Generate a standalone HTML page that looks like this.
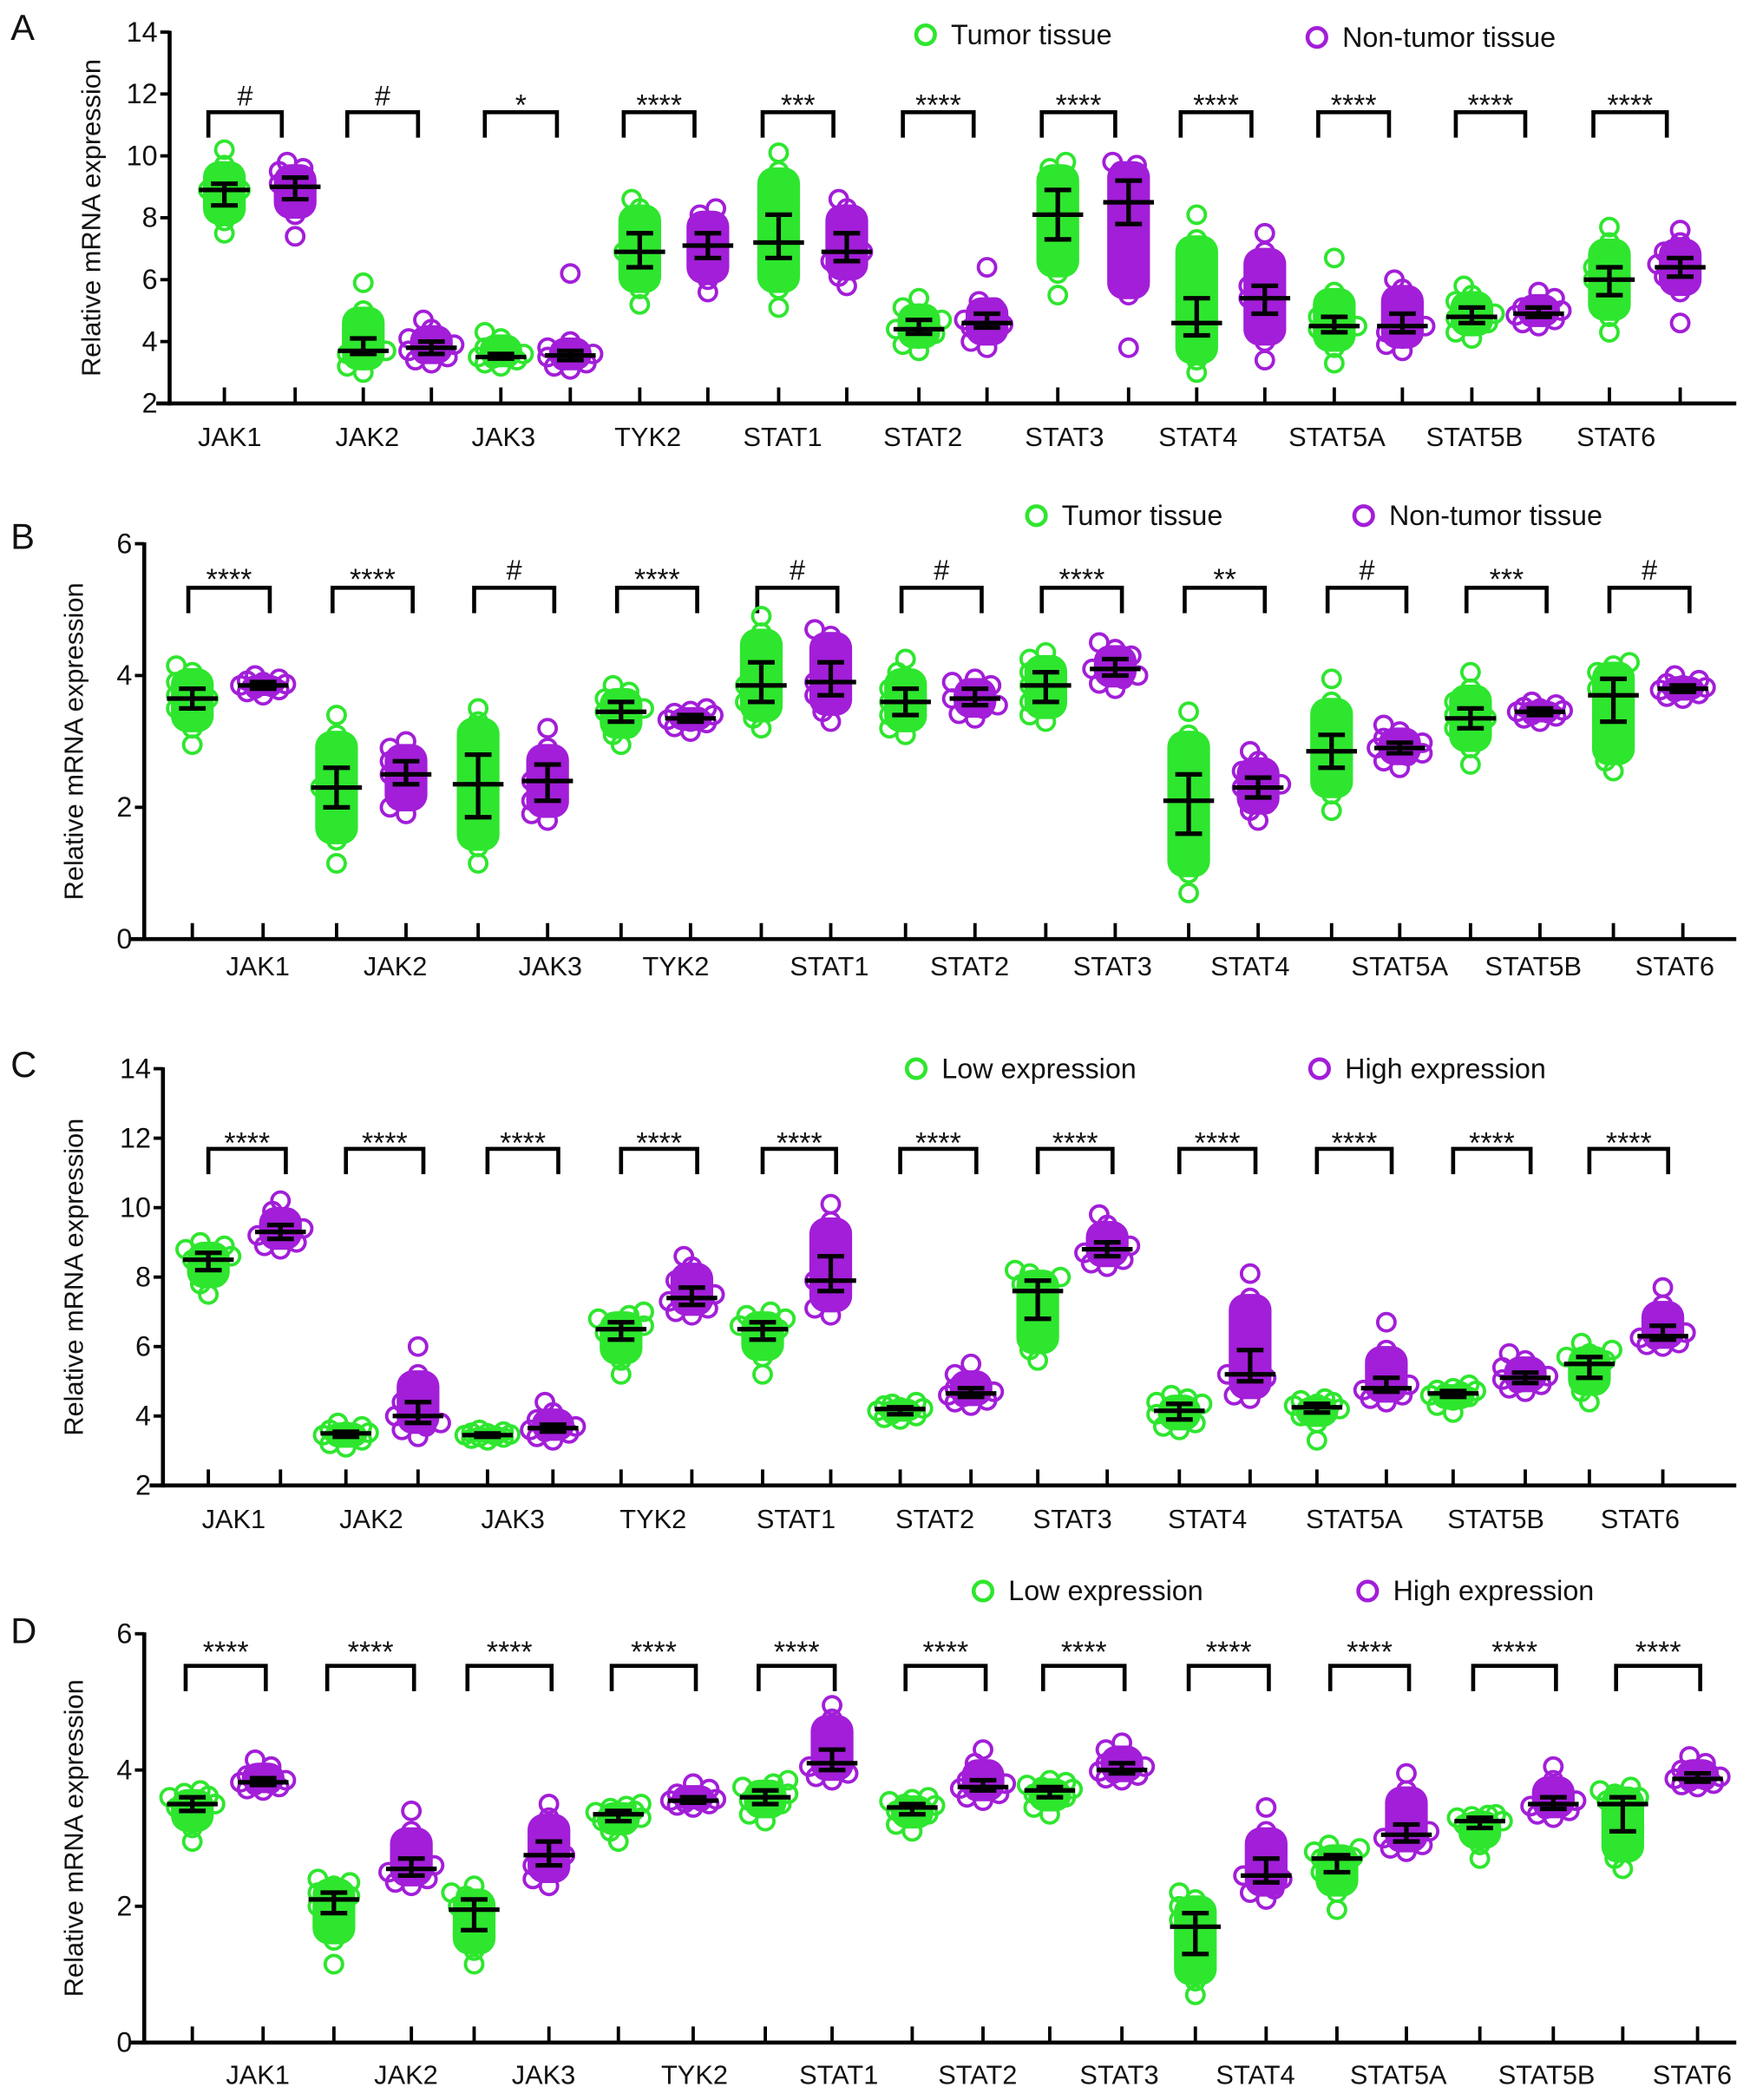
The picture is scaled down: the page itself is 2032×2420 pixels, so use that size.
<!DOCTYPE html>
<html><head><meta charset="utf-8">
<style>
html,body{margin:0;padding:0;background:#fff;}
svg{display:block;}
text{font-family:"Liberation Sans",Arial,sans-serif;fill:#111;}
</style></head>
<body>
<svg id="fig" width="2032" height="2420" viewBox="0 0 1320 1572" xmlns="http://www.w3.org/2000/svg"></svg>
<script>
const categories = ["JAK1","JAK2","JAK3","TYK2","STAT1","STAT2","STAT3","STAT4","STAT5A","STAT5B","STAT6"];

const ptsA_g = [[7.5,7.9,8.2,8.4,8.7,8.9,8.9,9.1,9.4,9.7,10.2],[3.0,3.2,3.4,3.6,3.7,3.7,3.9,4.1,4.5,5.0,5.9],[3.2,3.3,3.4,3.45,3.5,3.5,3.55,3.6,3.8,4.1,4.3],[5.2,5.7,6.1,6.4,6.7,6.9,7.1,7.5,7.9,8.3,8.6],[5.1,5.7,6.3,6.7,7.0,7.2,7.5,8.1,8.8,9.5,10.1],[3.7,3.9,4.1,4.25,4.4,4.4,4.55,4.7,4.9,5.1,5.4],[5.5,6.2,6.8,7.3,7.8,8.1,8.4,8.9,9.3,9.6,9.8],[3.0,3.4,3.8,4.2,4.5,4.6,4.9,5.4,6.3,7.3,8.1],[3.3,3.8,4.1,4.3,4.4,4.5,4.6,4.8,5.1,5.6,6.7],[4.1,4.3,4.5,4.6,4.75,4.8,4.9,5.1,5.3,5.5,5.8],[4.3,4.8,5.2,5.5,5.8,6.0,6.2,6.4,6.8,7.2,7.7]];
const ptsA_p = [[7.4,8.1,8.4,8.6,8.8,9.0,9.1,9.3,9.5,9.6,9.8],[3.3,3.4,3.5,3.6,3.7,3.8,3.9,4.0,4.1,4.4,4.7],[3.1,3.2,3.3,3.4,3.5,3.55,3.6,3.7,3.8,4.0,6.2],[5.6,6.0,6.4,6.7,6.9,7.1,7.3,7.5,7.8,8.1,8.3],[5.8,6.1,6.4,6.6,6.8,6.9,7.1,7.5,7.9,8.3,8.6],[3.8,4.0,4.3,4.45,4.55,4.6,4.7,4.9,5.1,5.3,6.4],[3.8,5.5,7.2,7.8,8.2,8.5,8.8,9.2,9.5,9.7,9.8],[3.4,4.0,4.6,4.9,5.2,5.4,5.6,5.8,6.3,6.9,7.5],[3.7,3.9,4.1,4.3,4.4,4.5,4.6,4.9,5.3,5.7,6.0],[4.5,4.6,4.7,4.8,4.85,4.9,5.0,5.1,5.2,5.4,5.6],[4.6,5.6,6.0,6.1,6.3,6.4,6.5,6.7,6.9,7.2,7.6]];
const sigA = ["#","#","*","****","***","****","****","****","****","****","****"];

const ptsB_g = [[2.95,3.2,3.4,3.5,3.6,3.65,3.7,3.8,3.9,4.05,4.15],[1.15,1.5,1.8,2.0,2.2,2.3,2.4,2.6,2.8,3.1,3.4],[1.15,1.4,1.6,1.85,2.1,2.35,2.5,2.8,3.0,3.3,3.5],[2.95,3.1,3.2,3.3,3.4,3.45,3.5,3.6,3.65,3.75,3.85],[3.2,3.35,3.5,3.6,3.75,3.85,4.0,4.2,4.4,4.65,4.9],[3.1,3.2,3.3,3.4,3.5,3.6,3.7,3.8,3.9,4.05,4.25],[3.3,3.4,3.5,3.6,3.75,3.85,3.95,4.05,4.15,4.25,4.35],[0.7,1.0,1.3,1.6,1.9,2.1,2.3,2.5,2.8,3.1,3.45],[1.95,2.2,2.4,2.6,2.75,2.85,2.95,3.1,3.3,3.6,3.95],[2.65,2.9,3.1,3.2,3.3,3.35,3.4,3.5,3.6,3.8,4.05],[2.55,2.7,3.0,3.3,3.5,3.7,3.8,3.95,4.05,4.15,4.2]];
const ptsB_p = [[3.7,3.75,3.78,3.8,3.83,3.85,3.87,3.9,3.92,3.95,4.0],[1.9,2.0,2.2,2.35,2.45,2.5,2.6,2.7,2.8,2.9,3.0],[1.8,1.9,2.0,2.1,2.3,2.4,2.5,2.65,2.75,2.9,3.2],[3.15,3.22,3.28,3.3,3.33,3.35,3.37,3.4,3.43,3.46,3.5],[3.3,3.45,3.6,3.7,3.8,3.9,4.0,4.2,4.4,4.6,4.7],[3.35,3.42,3.5,3.55,3.6,3.65,3.7,3.8,3.85,3.9,3.95],[3.8,3.88,3.95,4.0,4.05,4.1,4.15,4.25,4.3,4.4,4.5],[1.8,1.95,2.05,2.15,2.25,2.3,2.35,2.45,2.55,2.7,2.85],[2.6,2.7,2.78,2.82,2.87,2.9,2.93,2.98,3.05,3.15,3.25],[3.3,3.35,3.38,3.4,3.43,3.45,3.47,3.5,3.52,3.56,3.6],[3.65,3.68,3.72,3.75,3.78,3.8,3.82,3.85,3.88,3.93,4.0]];
const sigB = ["****","****","#","****","#","#","****","**","#","***","#"];

const ptsC_g = [[7.5,7.8,8.0,8.2,8.4,8.5,8.6,8.7,8.8,8.9,9.0],[3.1,3.2,3.3,3.4,3.45,3.5,3.52,3.55,3.6,3.7,3.8],[3.3,3.35,3.38,3.4,3.43,3.45,3.47,3.5,3.52,3.55,3.6],[5.2,5.6,5.9,6.2,6.4,6.5,6.6,6.7,6.8,6.9,7.0],[5.2,5.7,6.0,6.2,6.4,6.5,6.6,6.7,6.8,6.9,7.0],[3.9,3.95,4.0,4.05,4.15,4.2,4.22,4.25,4.3,4.35,4.4],[5.6,5.9,6.3,6.8,7.2,7.6,7.8,7.9,8.0,8.1,8.2],[3.6,3.7,3.8,3.9,4.05,4.15,4.25,4.35,4.4,4.5,4.6],[3.3,3.8,4.0,4.1,4.2,4.25,4.3,4.35,4.4,4.45,4.5],[4.1,4.3,4.45,4.55,4.6,4.65,4.7,4.72,4.75,4.8,4.9],[4.4,4.7,4.9,5.1,5.3,5.5,5.6,5.7,5.8,5.9,6.1]];
const ptsC_p = [[8.8,8.9,9.0,9.1,9.2,9.3,9.4,9.5,9.7,9.9,10.2],[3.4,3.6,3.7,3.8,3.9,4.0,4.2,4.4,4.8,5.2,6.0],[3.3,3.4,3.5,3.55,3.6,3.65,3.7,3.75,3.9,4.1,4.4],[6.9,7.0,7.1,7.2,7.3,7.4,7.5,7.7,7.9,8.3,8.6],[6.9,7.1,7.3,7.6,7.8,7.9,8.2,8.6,9.0,9.6,10.1],[4.3,4.4,4.45,4.55,4.6,4.65,4.7,4.8,4.95,5.2,5.5],[8.3,8.4,8.5,8.6,8.7,8.8,8.9,9.0,9.2,9.5,9.8],[4.5,4.6,4.8,5.0,5.1,5.2,5.5,5.9,6.6,7.4,8.1],[4.4,4.5,4.6,4.7,4.75,4.8,4.9,5.1,5.4,5.9,6.7],[4.7,4.8,4.9,4.95,5.05,5.1,5.15,5.25,5.4,5.6,5.8],[6.0,6.05,6.1,6.2,6.25,6.3,6.4,6.6,6.9,7.2,7.7]];
const sigC = ["****","****","****","****","****","****","****","****","****","****","****"];

const ptsD_g = [[2.95,3.15,3.3,3.4,3.45,3.5,3.55,3.6,3.62,3.66,3.7],[1.15,1.5,1.7,1.9,2.0,2.1,2.15,2.2,2.3,2.35,2.4],[1.15,1.35,1.5,1.65,1.8,1.95,2.0,2.1,2.15,2.2,2.3],[2.95,3.1,3.2,3.25,3.3,3.35,3.38,3.4,3.44,3.47,3.5],[3.25,3.35,3.45,3.5,3.55,3.6,3.65,3.7,3.75,3.8,3.85],[3.1,3.2,3.3,3.35,3.4,3.45,3.48,3.5,3.54,3.57,3.6],[3.35,3.45,3.55,3.6,3.65,3.7,3.72,3.75,3.78,3.82,3.85],[0.7,0.9,1.1,1.3,1.5,1.7,1.8,1.9,2.0,2.1,2.2],[1.95,2.2,2.4,2.5,2.6,2.7,2.72,2.75,2.8,2.85,2.9],[2.7,2.9,3.05,3.15,3.2,3.25,3.27,3.3,3.32,3.34,3.35],[2.55,2.7,2.9,3.1,3.3,3.5,3.55,3.6,3.65,3.7,3.75]];
const ptsD_p = [[3.7,3.72,3.75,3.78,3.8,3.82,3.85,3.88,3.92,4.05,4.15],[2.3,2.35,2.4,2.45,2.5,2.55,2.6,2.7,2.85,3.1,3.4],[2.3,2.4,2.5,2.6,2.7,2.75,2.85,2.95,3.1,3.3,3.5],[3.45,3.48,3.5,3.52,3.54,3.55,3.57,3.6,3.65,3.72,3.8],[3.85,3.9,3.95,4.0,4.05,4.1,4.2,4.3,4.5,4.75,4.95],[3.55,3.6,3.65,3.7,3.73,3.75,3.8,3.85,3.95,4.1,4.3],[3.85,3.88,3.92,3.95,3.98,4.0,4.05,4.1,4.2,4.3,4.4],[2.1,2.2,2.25,2.35,2.4,2.45,2.55,2.7,2.85,3.1,3.45],[2.8,2.85,2.9,2.95,3.0,3.05,3.1,3.2,3.4,3.7,3.95],[3.3,3.35,3.4,3.43,3.47,3.5,3.55,3.6,3.7,3.85,4.05],[3.75,3.78,3.8,3.83,3.85,3.87,3.9,3.95,4.0,4.1,4.2]];
const sigD = ["****","****","****","****","****","****","****","****","****","****","****"];

const ticksA = [2,4,6,8,10,12,14];
const ticksB = [0,2,4,6];

const GREEN = "#2ee62e", PURPLE = "#a21ed8";
const NS = "http://www.w3.org/2000/svg";
const svg = document.getElementById("fig");

function mk(tag, attrs, parent) {
  const e = document.createElementNS(NS, tag);
  for (const k in attrs) e.setAttribute(k, attrs[k]);
  (parent || svg).appendChild(e);
  return e;
}

const panels = [
  {id:"a", letter:"A", ly:30, ax:127, y0:302, y1:24, vmin:2, vmax:14, ticks:ticksA, g:ptsA_g, p:ptsA_p, sig:sigA,
   gx:[168,272,375,479,583,688,792,896,999,1102,1205], px:[221,323,427,530,634,739,845,947,1050,1152,1258],
   lx:[172,275,377,485,586,691,797,897,1001,1104,1210], labY:334, titleX:75, brY:84, bl:-12, br:-10, starY:79,
   leg:[[693,29,"Tumor tissue"],[986,31,"Non-tumor tissue"]]},
  {id:"b", letter:"B", ly:411, ax:108, y0:703, y1:407, vmin:0, vmax:6, ticks:ticksB, g:ptsB_g, p:ptsB_p, sig:sigB,
   gx:[144,252,358,465,570,678,783,890,997,1101,1208], px:[197,304,410,517,622,730,835,942,1048,1153,1260],
   lx:[193,296,412,506,621,726,833,936,1048,1148,1254], labY:730, titleX:62, brY:440, bl:-3, br:5, starY:434,
   leg:[[776,389,"Tumor tissue"],[1021,389,"Non-tumor tissue"]]},
  {id:"c", letter:"C", ly:806, ax:122, y0:1112, y1:800, vmin:2, vmax:14, ticks:ticksA, g:ptsC_g, p:ptsC_p, sig:sigC,
   gx:[156,259,365,465,571,674,777,883,986,1088,1190], px:[210,313,414,518,622,727,829,936,1038,1142,1245],
   lx:[175,278,384,489,596,700,803,904,1014,1120,1228], labY:1144, titleX:62, brY:860, bl:0, br:4, starY:856,
   leg:[[686,803,"Low expression"],[988,803,"High expression"]]},
  {id:"d", letter:"D", ly:1230, ax:108, y0:1529, y1:1223, vmin:0, vmax:6, ticks:ticksB, g:ptsD_g, p:ptsD_p, sig:sigD,
   gx:[144,250,355,463,573,683,786,895,1001,1108,1215], px:[197,308,411,519,623,736,840,948,1053,1163,1271],
   lx:[193,304,407,520,628,732,838,940,1047,1158,1267], labY:1560, titleX:62, brY:1247, bl:-5, br:2, starY:1237,
   leg:[[736,1194,"Low expression"],[1024,1194,"High expression"]]}
];

const R = 6.5;
function swarm(vals, cx, yf) {
  const sorted = vals.slice().sort((a,b)=>a-b);
  const placed = [];
  const offs = [0,-6,6,-12,12,-17,17];
  sorted.forEach(v => {
    const y = yf(v);
    let best = 0, bestD = -1;
    for (const o of offs) {
      let md = 1e9;
      for (const q of placed) md = Math.min(md, Math.hypot(q[0]-(cx+o), q[1]-y));
      if (md >= 9) { best = o; bestD = 1e9; break; }
      if (md > bestD) { bestD = md; best = o; }
    }
    placed.push([cx+best, y]);
  });
  return placed;
}

panels.forEach(P => {
  const g = mk("g", {});
  
  
  const yf = v => P.y0 - (v - P.vmin) / (P.vmax - P.vmin) * (P.y0 - P.y1);

  const L = mk("text", {x:8, y:P.ly, "font-size":27}, g); L.textContent = P.letter;
  
  

  const ya = mk("line", {x1:P.ax, y1:P.y1-1, x2:P.ax, y2:P.y0+1.5, stroke:"#000","stroke-width":3}, g);
  
  
  const xa = mk("line", {x1:P.ax-10, y1:P.y0, x2:1300, y2:P.y0, stroke:"#000","stroke-width":3}, g);
  
  
  P.ticks.forEach(t => {
    const y = yf(t);
    mk("line", {x1:P.ax-7, y1:y, x2:P.ax, y2:y, stroke:"#000","stroke-width":2.5}, g);
    const tt = mk("text", {x:P.ax-9, y:y+7, "font-size":21, "text-anchor":"end"}, g);
    tt.textContent = t;
    
    
  });
  const midY = (P.y0 + P.y1) / 2;
  const yt = mk("text", {x:P.titleX, y:midY, "font-size":20, "text-anchor":"middle", transform:`rotate(-90 ${P.titleX} ${midY})`}, g);
  yt.textContent = "Relative mRNA expression";
  
  

  P.leg.forEach((lg, i) => {
    const c = mk("circle", {cx:lg[0], cy:lg[1]-3, r:7, fill:"none", stroke:i?PURPLE:GREEN, "stroke-width":3}, g);
    
    
    const t = mk("text", {x:lg[0]+19, y:lg[1]+4, "font-size":21}, g);
    t.textContent = lg[2];
    
    
  });

  categories.forEach((cat, i) => {
    [P.gx[i], P.px[i]].forEach(x => mk("line", {x1:x, y1:P.y0-12, x2:x, y2:P.y0, stroke:"#000","stroke-width":2.5}, g));
    const lab = mk("text", {x:P.lx[i], y:P.labY, "font-size":20, "text-anchor":"middle"}, g);
    lab.textContent = cat;
    
    

    const x1 = P.gx[i] + P.bl, x2 = P.px[i] + P.br;
    const br = mk("path", {d:`M${x1},${P.brY+19} V${P.brY} H${x2} V${P.brY+19}`, fill:"none", stroke:"#000","stroke-width":3}, g);
    
    
    const isStar = P.sig[i].indexOf("*") >= 0;
    const st = mk("text", {x:(x1+x2)/2, y:P.starY + (isStar ? 7 : 0), "font-size":isStar ? 22 : 21, "text-anchor":"middle"}, g);
    st.textContent = P.sig[i];
    
    

    [[P.g[i], P.gx[i], GREEN], [P.p[i], P.px[i], PURPLE]].forEach(([vals, cx, col]) => {
      const grp = mk("g", {}, g);
      
      
      const s = vals.slice().sort((a,b)=>a-b);
      const q1 = s[1], q3 = s[s.length-2];
      const core = mk("rect", {x:cx-16, y:yf(q3)-3, width:32, height:Math.max(6, yf(q1)-yf(q3)+6), rx:12, fill:col}, grp);
      
      
      const pos = swarm(vals, cx, yf);
      pos.forEach(p => {
        const c = mk("circle", {cx:p[0], cy:p[1], r:R, fill:"none", stroke:col, "stroke-width":2.5}, grp);
        
        
      });
      const med = s[5], lo = s[3], hi = s[7];
      const eb = mk("path", {d:`M${cx},${yf(hi)} V${yf(lo)} M${cx-10},${yf(hi)} H${cx+10} M${cx-10},${yf(lo)} H${cx+10} M${cx-19},${yf(med)} H${cx+19}`, stroke:"#000", "stroke-width":3.4, fill:"none"}, grp);
      
      
    });
  });
});
</script>
</body></html>
